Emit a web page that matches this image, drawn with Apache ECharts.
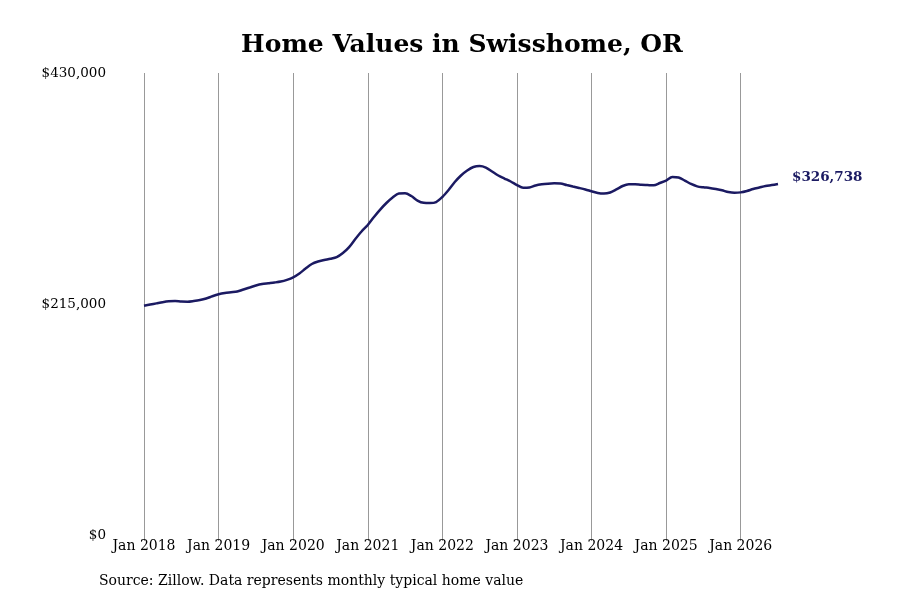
<!DOCTYPE html>
<html>
<head>
<meta charset="utf-8">
<title>Home Values in Swisshome, OR</title>
<script src="https://cdn.jsdelivr.net/npm/echarts@6/dist/echarts.min.js"></script>
<style>
    html, body { margin: 0; padding: 0; background: #fff; }
    #chart { width: 900px; height: 600px; }
</style>
</head>
<body>
<div id="chart"></div>
<script>
// months Jan 2018 .. Jul 2026
const months = [];
for (let y = 2018; y <= 2026; y++) {
    const names = ['Jan', 'Feb', 'Mar', 'Apr', 'May', 'Jun', 'Jul', 'Aug', 'Sep', 'Oct', 'Nov', 'Dec'];
    for (let m = 0; m < 12; m++) {
        if (y === 2026 && m > 6) break;
        months.push(names[m] + ' ' + y);
    }
}

// typical home value
const homeValues = [
    213400, 214500, 215600, 216700, 217500, 217800, 217300, 217200, 217800, 218700, 220100, 222200,
    224000, 225200, 225900, 226600, 228500, 230300, 232200, 233600, 234300, 235000, 235900, 237500,
    239800, 243400, 248000, 252200, 254500, 255900, 257100, 258700, 262500, 268000, 275500, 282500,
    288500, 296000, 302900, 309000, 314100, 317800, 318000, 315500, 311300, 309200, 309000, 309900,
    314600, 321100, 328500, 334600, 339200, 342500, 343400, 342000, 338300, 334600, 331800, 329000,
    325700, 323100, 323400, 325300, 326400, 327000, 327300, 327200, 325700, 324300, 323000, 321600,
    319900, 318300, 317800, 318800, 321600, 324800, 326400, 326400, 325900, 325700, 325500, 327600,
    329900, 333200, 332700, 329900, 326700, 324500, 323600, 323000, 322000, 320800, 319200, 318500,
    318900, 320200, 322000, 323400, 324800, 325700, 326738
];

const yTicks = [0, 215000, 430000];
const navy = '#1b1a62';
const serif = '"DejaVu Serif", "Liberation Serif", serif';

const chart = echarts.init(document.getElementById('chart'));
chart.setOption({
    animation: false,
    backgroundColor: '#fff',
    title: {
        text: 'Home Values in Swisshome, OR',
        left: 457,
        top: 28,
        textAlign: 'center',
        textStyle: { fontFamily: serif, fontSize: 25, fontWeight: 'bold', color: '#000' }
    },
    graphic: [{
        type: 'text',
        left: 99,
        top: 574,
        style: {
            text: 'Source: Zillow. Data represents monthly typical home value',
            font: '14px ' + serif,
            fill: '#000'
        }
    }],
    grid: { left: 144, right: 122, top: 73, bottom: 65, containLabel: false },
    xAxis: {
        type: 'category',
        data: months,
        boundaryGap: false,
        axisLine: { show: false },
        axisTick: { show: true, interval: 11, length: 6, lineStyle: { color: '#999' } },
        splitLine: { show: true, interval: 11, lineStyle: { color: '#999', width: 1 } },
        axisLabel: {
            interval: 11,
            margin: 4,
            fontFamily: serif,
            fontSize: 14,
            color: '#000'
        }
    },
    yAxis: {
        type: 'value',
        min: yTicks[0],
        max: yTicks[2],
        interval: yTicks[1],
        axisLine: { show: false },
        axisTick: { show: false },
        splitLine: { show: false },
        axisLabel: {
            margin: 38,
            fontFamily: serif,
            fontSize: 13.5,
            color: '#000',
            formatter: v => '$' + v.toLocaleString('en-US')
        }
    },
    series: [{
        type: 'line',
        data: homeValues,
        smooth: 0.3,
        showSymbol: false,
        lineStyle: { color: navy, width: 2.5 },
        endLabel: {
            show: true,
            distance: 14,
            offset: [0, -6],
            fontFamily: serif,
            fontSize: 13.5,
            fontWeight: 'bold',
            color: navy,
            formatter: p => '$' + p.value.toLocaleString('en-US')
        }
    }]
});
</script>
</body>
</html>
